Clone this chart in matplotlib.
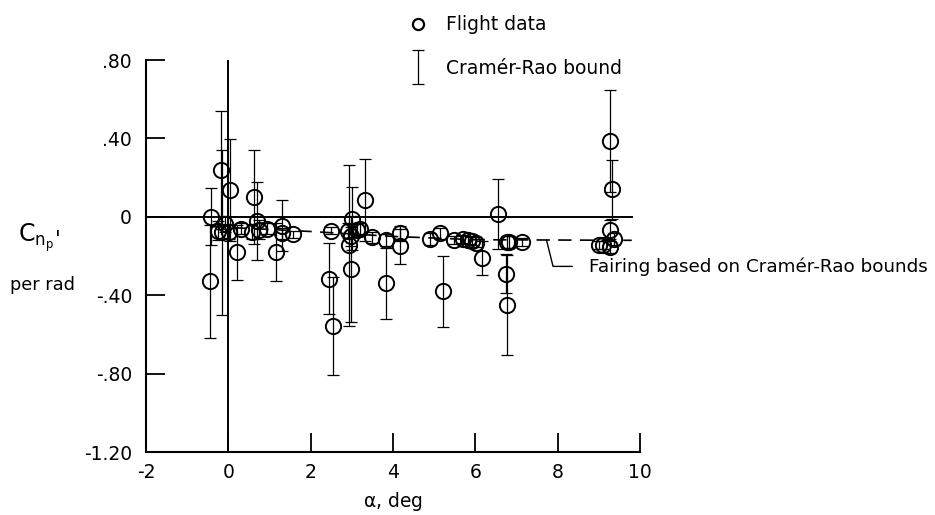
#!/usr/bin/env python3
import matplotlib
matplotlib.use("Agg")
import matplotlib.pyplot as plt
from matplotlib.legend_handler import HandlerErrorbar
from matplotlib.lines import Line2D

plt.rcParams.update({
    "font.family": ["DejaVu Sans"],
    "font.size": 13.5,
    "xtick.labelsize": 13.5,
    "ytick.labelsize": 13.5,
    "axes.unicode_minus": False,
})

# flight data: angle of attack (deg), Cn_p' (per rad), Cramer-Rao bound
alpha = [-0.42, -0.45, -0.18, -0.15, 0.05, -0.24, -0.07, 0.02, 0.21, 0.31,
         0.58, 0.62, 0.70, 0.74, 0.94, 1.15, 1.31, 1.31, 1.57,
         2.44, 2.50, 2.55, 2.91, 2.93, 2.98, 2.97, 3.01, 3.13, 3.21, 3.31,
         3.50, 3.84, 3.82, 4.16, 4.18,
         4.91, 5.14, 5.22, 5.48, 5.69, 5.81, 5.93, 6.01, 6.17, 6.54,
         6.77, 6.82, 6.75, 6.78, 7.14,
         9.28, 9.31, 9.28, 9.01, 9.09, 9.28, 9.38]
cnp = [0.00, -0.33, 0.24, -0.08, 0.135, -0.07, -0.035, -0.075, -0.18, -0.06,
       -0.075, 0.10, -0.02, -0.065, -0.06, -0.18, -0.045, -0.085, -0.09,
       -0.315, -0.07, -0.555, -0.07, -0.145, -0.265, -0.10, -0.01, -0.065, -0.06, 0.085,
       -0.105, -0.12, -0.34, -0.085, -0.15,
       -0.115, -0.085, -0.38, -0.12, -0.115, -0.12, -0.125, -0.135, -0.21, 0.015,
       -0.13, -0.13, -0.29, -0.45, -0.13,
       0.385, 0.14, -0.065, -0.145, -0.145, -0.155, -0.115]
crb = [0.145, 0.29, 0.30, 0.42, 0.26, 0.05, 0.04, 0.04, 0.14, 0.03,
       0.04, 0.24, 0.20, 0.05, 0.03, 0.15, 0.13, 0.03, 0.02,
       0.18, 0.02, 0.25, 0.04, 0.41, 0.27, 0.05, 0.16, 0.03, 0.03, 0.21,
       0.03, 0.03, 0.18, 0.04, 0.09,
       0.03, 0.03, 0.18, 0.02, 0.02, 0.02, 0.02, 0.02, 0.085, 0.18,
       0.03, 0.03, 0.10, 0.255, 0.02,
       0.26, 0.15, 0.05, 0.02, 0.02, 0.03, 0.03]

# fairing based on Cramer-Rao bounds
fair_alpha = [-0.4, 2.0, 4.0, 6.0, 9.8]
fair_cnp = [-0.05, -0.075, -0.10, -0.117, -0.12]

yticks = [0.8, 0.4, 0.0, -0.4, -0.8, -1.2]
ytick_labels = [".80", ".40", "0", "-.40", "-.80", "-1.20"]
xticks = [-2, 0, 2, 4, 6, 8, 10]

fig = plt.figure(figsize=(9.35, 5.15), dpi=100)
ax = fig.add_axes([146 / 935, 1 - 452 / 515, 494 / 935, 392 / 515])

ax.axhline(0, xmin=0, xmax=(9.8 + 2) / 12, color="k", lw=1.4, zorder=1)
ax.axvline(0, color="k", lw=1.4, zorder=1)
ax.plot(fair_alpha, fair_cnp, color="k", lw=1.2, ls=(0, (8, 5)), zorder=1)

eb = ax.errorbar(alpha, cnp, yerr=crb, fmt="none", ecolor="k", elinewidth=0.9,
                 capsize=4, capthick=0.9, zorder=2)
ax.plot(alpha, cnp, ls="none", marker="o", ms=11, mfc="none", mec="k",
        mew=1.4, zorder=3)

ax.set_xlim(-2, 10)
ax.set_ylim(-1.2, 0.8)
ax.set_xticks(xticks)
ax.set_yticks(yticks)
ax.set_yticklabels(ytick_labels)
ax.tick_params(direction="in", length=14, width=1.3, pad=8)
ax.tick_params(axis="y", pad=10)
for s in ["top", "right"]:
    ax.spines[s].set_visible(False)
for s in ["left", "bottom"]:
    ax.spines[s].set_linewidth(1.5)

ax.set_xlabel(r"$\mathregular{\alpha}$, deg", labelpad=6)
fig.text(36 / 935, 1 - 238 / 515, r"$\mathregular{C_{n_p}}$",
         ha="center", va="center", fontsize=17)
fig.text(58 / 935, 1 - 240 / 515, "'", ha="center", va="center",
         fontsize=15)
fig.text(42 / 935, 1 - 285 / 515, "per rad", ha="center", va="center",
         fontsize=12.8)

ax.annotate("Fairing based on Cramér-Rao bounds", xy=(7.73, -0.12),
            xytext=(8.76, -0.253), ha="left", va="center", fontsize=13.2,
            annotation_clip=False,
            arrowprops=dict(arrowstyle="-", lw=1, color="k",
                            connectionstyle="angle,angleA=180,angleB=-76,rad=0",
                            relpos=(0, 0.5), shrinkA=10, shrinkB=0))

# legend above the axes
h_circ = Line2D([], [], ls="none", marker="o", ms=8, mfc="none", mec="k",
                mew=1.6)
fig.legend([h_circ, eb], ["Flight data", "Cramér-Rao bound"],
           loc="upper left", bbox_to_anchor=(396 / 935, 1 - 6 / 515),
           frameon=False, borderpad=0, handlelength=1.3, handletextpad=0.85,
           labelspacing=1.3, fontsize=13.5,
           handler_map={eb: HandlerErrorbar(yerr_size=0.9)})

plt.savefig("out.png", dpi=100)
